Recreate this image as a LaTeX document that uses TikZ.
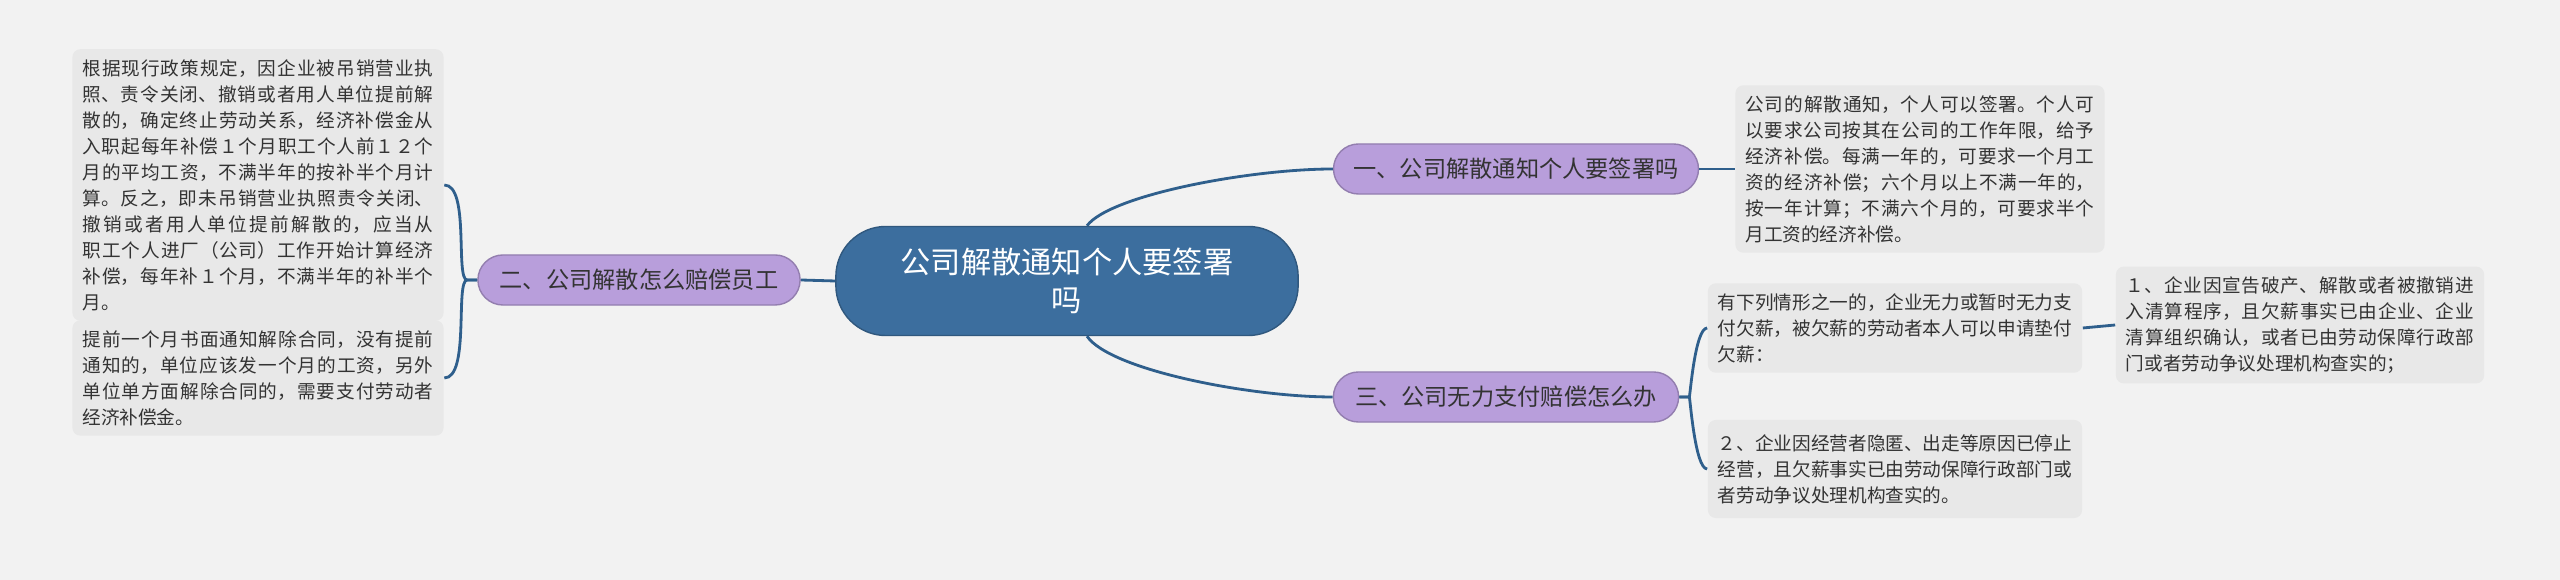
\documentclass[tikz,border=0pt]{standalone}
\usepackage{fontspec}
\setmainfont{Noto Sans CJK SC}
\XeTeXlinebreaklocale "zh"
\XeTeXlinebreakskip=0pt plus 1pt
\usetikzlibrary{positioning}
\definecolor{bgcol}{HTML}{F2F2F2}
\definecolor{rootcol}{HTML}{3C6E9E}
\definecolor{branchcol}{HTML}{B89EDB}
\definecolor{leafcol}{HTML}{E8E8E8}
\definecolor{linecol}{HTML}{2F5F8C}
\definecolor{txtcol}{HTML}{333333}
\tikzset{
  rootbox/.style={fill=rootcol, draw=rootcol!80!black, rounded corners=0.5cm, text=white,
    font=\fontsize{8.6pt}{11pt}\selectfont, align=center, minimum width=4.62cm, minimum height=1.09cm},
  branchbox/.style={fill=branchcol, draw=branchcol!80!black, rounded corners=0.25cm, text=txtcol,
    font=\fontsize{6.6pt}{8pt}\selectfont, minimum height=0.5cm, inner xsep=0.2cm},
  leafbox/.style={fill=leafcol, rounded corners=0.08cm, text=txtcol, align=justify,
    font=\fontsize{5.3pt}{7.4pt}\selectfont, inner sep=0.1cm},
  link/.style={draw=linecol, line width=0.8pt}
}
\begin{document}
\begin{tikzpicture}[x=0.01cm, y=-0.01cm]
    \fill[bgcol] (0,0) rectangle (2560,580);

    % root and main branches
    \node[rootbox] (root) at (1067,281) {公司解散通知个人要签署\\吗};
    \node[branchbox, minimum width=3.64cm] (sign) at (1516,169) {一、公司解散通知个人要签署吗};
    \node[branchbox, minimum width=3.22cm] (pay) at (639,280) {二、公司解散怎么赔偿员工};
    \node[branchbox, minimum width=3.45cm] (unable) at (1506,397) {三、公司无力支付赔偿怎么办};

    % leaves
    \node[leafbox, text width=3.51cm, minimum height=2.21cm] (law) at (258,185) {根据现行政策规定，因企业被吊销营业执照、责令关闭、撤销或者用人单位提前解散的，确定终止劳动关系，经济补偿金从入职起每年补偿１个月职工个人前１２个月的平均工资，不满半年的按补半个月计算。反之，即未吊销营业执照责令关闭、撤销或者用人单位提前解散的，应当从职工个人进厂（公司）工作开始计算经济补偿，每年补１个月，不满半年的补半个月。};
    \node[leafbox, text width=3.51cm, minimum height=0.8cm] (notice) at (258,378) {提前一个月书面通知解除合同，没有提前通知的，单位应该发一个月的工资，另外单位单方面解除合同的，需要支付劳动者经济补偿金。};
    \node[leafbox, text width=3.49cm, minimum height=1.29cm] (signtext) at (1920,169) {公司的解散通知，个人可以签署。个人可以要求公司按其在公司的工作年限，给予经济补偿。每满一年的，可要求一个月工资的经济补偿；六个月以上不满一年的，按一年计算；不满六个月的，可要求半个月工资的经济补偿。};
    \node[leafbox, text width=3.54cm, minimum height=0.88cm] (cases) at (1895,328) {有下列情形之一的，企业无力或暂时无力支付欠薪，被欠薪的劳动者本人可以申请垫付欠薪：};
    \node[leafbox, text width=3.54cm, minimum height=0.98cm] (case2) at (1895,469) {２、企业因经营者隐匿、出走等原因已停止经营，且欠薪事实已由劳动保障行政部门或者劳动争议处理机构查实的。};
    \node[leafbox, text width=3.48cm, minimum height=1.09cm] (case1) at (2300,325) {１、企业因宣告破产、解散或者被撤销进入清算程序，且欠薪事实已由企业、企业清算组织确认，或者已由劳动保障行政部门或者劳动争议处理机构查实的；};

    % connectors
    \draw[link] (root.north) ++(20,0) .. controls (1110,195) and (1250,169) .. (sign.west);
    \draw[link] (root.south) ++(20,0) .. controls (1110,370) and (1250,397) .. (unable.west);
    \draw[link] (root.west) -- (pay.east);
    \draw[link] (pay.west) -- ++(-10,0) .. controls (455,280) and (470,185) .. (law.east);
    \draw[link] (pay.west) -- ++(-10,0) .. controls (455,280) and (470,378) .. (notice.east);
    \draw[link] (sign.east) -- (signtext.west);
    \draw[link] (unable.east) -- ++(10,0) .. controls (1690,397) and (1695,328) .. (cases.west);
    \draw[link] (unable.east) -- ++(10,0) .. controls (1690,397) and (1695,469) .. (case2.west);
    \draw[link] (cases.east) -- (case1.west);
\end{tikzpicture}
\end{document}
